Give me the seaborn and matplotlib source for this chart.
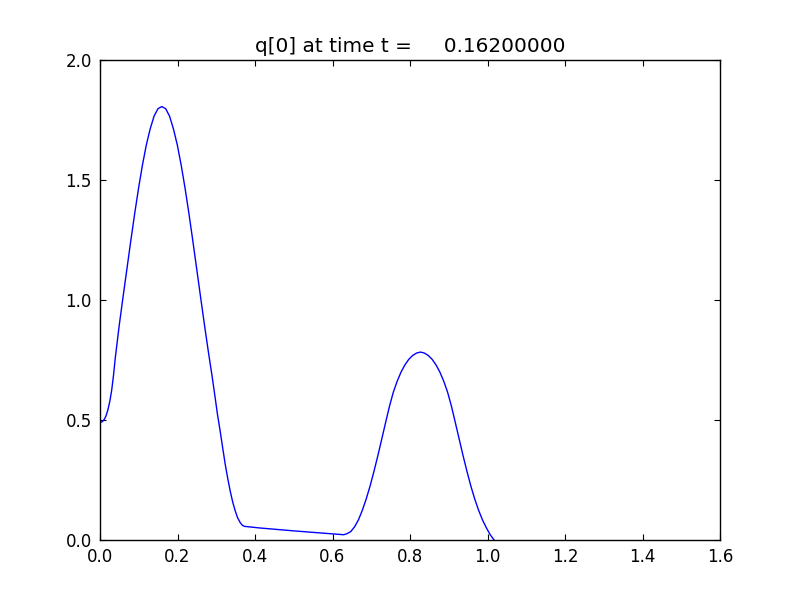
import matplotlib
matplotlib.use("Agg")
import matplotlib.pyplot as plt
import seaborn as sns
import pandas as pd

x_vals = [0.000, 0.005, 0.010, 0.015, 0.020, 0.025, 0.030, 0.035, 0.0395,
          0.0495, 0.0595, 0.0695, 0.0795, 0.0895, 0.0995, 0.1095, 0.1195,
          0.1295, 0.1395, 0.1495, 0.1595, 0.1695, 0.1795, 0.1895, 0.1995,
          0.2095, 0.2195, 0.2295, 0.2395, 0.2495, 0.2595, 0.2695, 0.2795,
          0.2895, 0.297, 0.303, 0.310, 0.3165, 0.323, 0.3295, 0.336, 0.3425,
          0.349, 0.355, 0.362, 0.367, 0.372, 0.413, 0.500, 0.580, 0.629,
          0.637, 0.647, 0.657, 0.667, 0.677, 0.687, 0.697, 0.707, 0.717,
          0.727, 0.737, 0.747, 0.757, 0.767, 0.777, 0.787, 0.797, 0.807,
          0.817, 0.827, 0.837, 0.847, 0.857, 0.867, 0.877, 0.887, 0.897,
          0.907, 0.917, 0.927, 0.937, 0.947, 0.957, 0.967, 0.977, 0.987,
          0.997, 1.007, 1.017]
q_vals = [0.490, 0.492, 0.500, 0.515, 0.540, 0.575, 0.622, 0.688, 0.760,
          0.893, 1.013, 1.130, 1.247, 1.360, 1.466, 1.562, 1.646,
          1.713, 1.766, 1.797, 1.806, 1.797, 1.766, 1.713, 1.646,
          1.562, 1.466, 1.360, 1.247, 1.130, 1.013, 0.897, 0.786,
          0.680, 0.595, 0.525, 0.455, 0.385, 0.317, 0.258, 0.204, 0.158,
          0.121, 0.093, 0.072, 0.062, 0.057, 0.050, 0.038, 0.028, 0.022,
          0.026, 0.035, 0.055, 0.084, 0.124, 0.171, 0.225, 0.286, 0.351,
          0.420, 0.489, 0.557, 0.616, 0.662, 0.700, 0.730, 0.753, 0.769,
          0.779, 0.783, 0.779, 0.769, 0.753, 0.730, 0.700, 0.662, 0.616,
          0.557, 0.489, 0.420, 0.351, 0.286, 0.225, 0.171, 0.124, 0.084,
          0.051, 0.022, 0.000]
x_ticks = [0.0, 0.2, 0.4, 0.6, 0.8, 1.0, 1.2, 1.4, 1.6]
y_ticks = [0.0, 0.5, 1.0, 1.5, 2.0]
title_text = "q[0] at time t =     0.16200000"

sns.set_theme(style="ticks")
plt.rcParams['font.family'] = ['DejaVu Sans']
plt.rcParams.update({
    "xtick.direction": "in", "ytick.direction": "in",
    "xtick.top": True, "ytick.right": True,
    "xtick.major.size": 4, "ytick.major.size": 4,
    "xtick.major.width": 0.8, "ytick.major.width": 0.8,
    "axes.edgecolor": "black", "axes.linewidth": 1.0,
    "xtick.color": "black", "ytick.color": "black",
    "text.color": "black", "axes.titlecolor": "black",
})

df = pd.DataFrame({"x": x_vals, "q": q_vals})

fig = plt.figure(figsize=(8, 6), dpi=100, facecolor="white")
ax = fig.add_axes([0.125, 0.1, 0.775, 0.8])
sns.lineplot(data=df, x="x", y="q", sort=False, estimator=None,
             color="#0000ff", linewidth=1.0, ax=ax)
ax.set_xlim(0, 1.6)
ax.set_ylim(0, 2.0)
ax.set_xticks(x_ticks)
ax.set_yticks(y_ticks)
ax.set_xticklabels([f"{v:.1f}" for v in x_ticks])
ax.set_yticklabels([f"{v:.1f}" for v in y_ticks])
ax.tick_params(labelsize=12, pad=6)
ax.set_xlabel("")
ax.set_ylabel("")
ax.set_title(title_text, fontsize=14.4, pad=6, color="black")
for s in ax.spines.values():
    s.set_visible(True)
    s.set_color("black")

fig.savefig("out.png", dpi=100, facecolor="white")
